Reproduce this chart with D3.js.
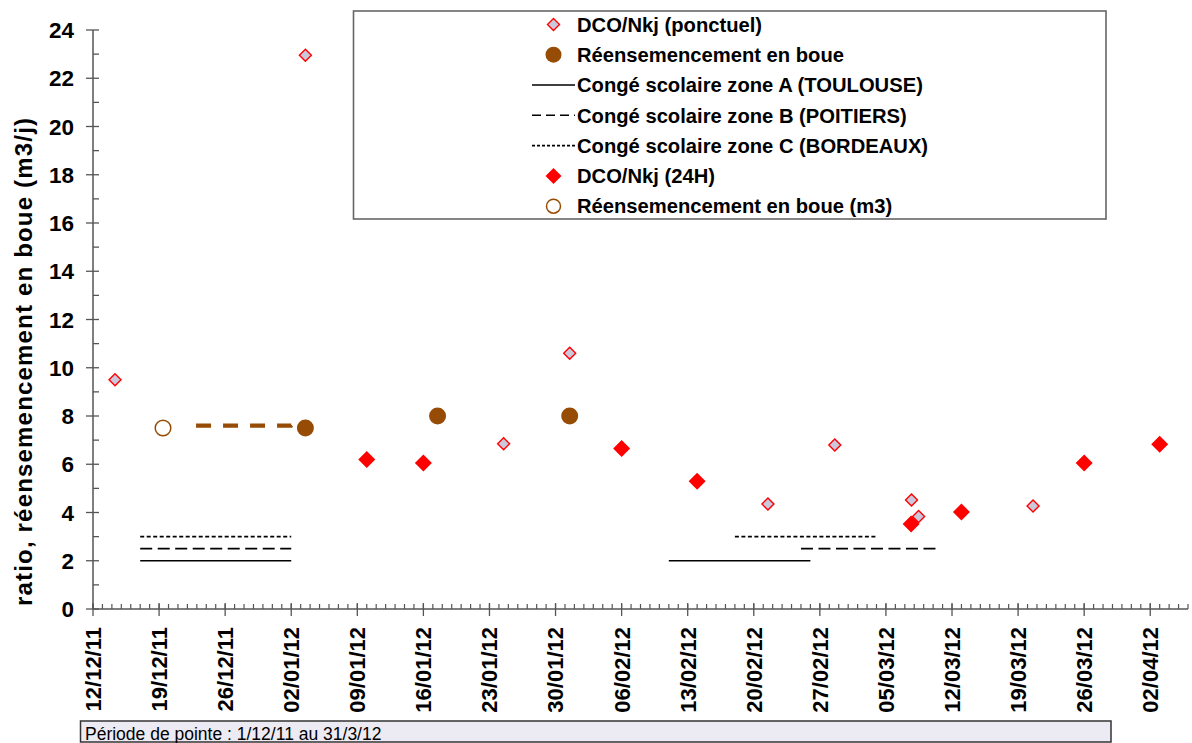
<!DOCTYPE html>
<html><head><meta charset="utf-8">
<script src="https://cdn.jsdelivr.net/npm/d3@7"></script>
<style>body{margin:0;background:#fff;}svg{display:block;font-family:"Liberation Sans",Arial,sans-serif;}</style>
</head><body>
<svg id="c" width="1192" height="743"></svg>
<script>
// ---- data ----
const xTickLabels = ["12/12/11","19/12/11","26/12/11","02/01/12","09/01/12","16/01/12","23/01/12","30/01/12","06/02/12","13/02/12","20/02/12","27/02/12","05/03/12","12/03/12","19/03/12","26/03/12","02/04/12"];
const yTickValues = [0,2,4,6,8,10,12,14,16,18,20,22,24];
const xDomain = ["2011-12-12T00:00","2012-04-06T00:00"];

const ponctuelDates = ["2011-12-14T08:00","2012-01-03T12:00","2012-01-24T12:00","2012-01-31T12:00","2012-02-21T12:00","2012-02-28T14:00","2012-03-07T17:00","2012-03-08T11:00","2012-03-20T14:00"];
const ponctuelValues = [9.5,22.95,6.85,10.6,4.35,6.8,4.52,3.83,4.27];

const h24Dates = ["2012-01-10T00:00","2012-01-16T00:00","2012-02-06T00:00","2012-02-14T00:00","2012-03-07T16:00","2012-03-13T00:00","2012-03-26T00:00","2012-04-03T00:00"];
const h24Values = [6.2,6.05,6.65,5.3,3.52,4.02,6.05,6.83];

const reensDates = ["2012-01-03T12:00","2012-01-17T12:00","2012-01-31T12:00"];
const reensValues = [7.5,8.0,8.0];

const reensM3Dates = ["2011-12-19T10:00"];
const reensM3Values = [7.5];

const reensLineDates = ["2011-12-22T22:00","2012-01-02T00:00","2012-01-02T22:00"];
const reensLineValues = [7.6,7.6,7.85];

const zoneA = [["2011-12-17T00:00","2012-01-02T00:00"],["2012-02-11T00:00","2012-02-26T00:00"]];
const zoneB = [["2011-12-17T00:00","2012-01-02T00:00"],["2012-02-25T00:00","2012-03-10T12:00"]];
const zoneC = [["2011-12-17T00:00","2012-01-02T00:00"],["2012-02-18T00:00","2012-03-04T00:00"]];
const zoneLevels = [2,2.5,3];

const legendLabels = ["DCO/Nkj (ponctuel)","Réensemencement en boue","Congé scolaire zone A (TOULOUSE)","Congé scolaire zone B (POITIERS)","Congé scolaire zone C (BORDEAUX)","DCO/Nkj (24H)","Réensemencement en boue (m3)"];
const yTitle = "ratio, réensemencement en boue (m3/j)";
const footnote = "Période de pointe : 1/12/11 au 31/3/12";

// ---- drawing ----
const parse = d3.utcParse("%Y-%m-%dT%H:%M");
const parseLbl = d3.utcParse("%d/%m/%y");
const svg = d3.select("#c");
const brown = "#974C05";
const red = "#FF0000";
const axisCol = "#555";

const x = d3.scaleUtc().domain(xDomain.map(parse)).range([93, 1188]);
const y = d3.scaleLinear().domain([0,24]).range([609, 30]);

// y axis
const ya = svg.append("g");
ya.append("line").attr("x1",x.range()[0]).attr("x2",x.range()[0]).attr("y1",y(0)).attr("y2",y(24)).attr("stroke",axisCol).attr("stroke-width",1.5);
d3.range(0,25,1).forEach(v=>{
  const major = v%2===0;
  ya.append("line").attr("x1", major? 86 : 93).attr("x2", 99).attr("y1",y(v)).attr("y2",y(v)).attr("stroke",axisCol).attr("stroke-width",1.3);
});
ya.selectAll("text.yt").data(yTickValues).join("text").attr("class","yt")
  .attr("x",74).attr("y",d=>y(d)).attr("dy","0.36em").attr("text-anchor","end")
  .attr("font-size",22.5).attr("font-weight","bold").text(d=>d);

// x axis
const xa = svg.append("g");
xa.append("line").attr("x1",x.range()[0]).attr("x2",x.range()[1]).attr("y1",y(0)).attr("y2",y(0)).attr("stroke",axisCol).attr("stroke-width",1.5);
const [d0,d1] = x.domain();
d3.utcDay.range(d0, d3.utcDay.offset(d1,1)).forEach(d=>{
  xa.append("line").attr("x1",x(d)).attr("x2",x(d)).attr("y1",604).attr("y2",609).attr("stroke",axisCol).attr("stroke-width",1.2);
});
const majorTicks = xTickLabels.map(parseLbl);
majorTicks.forEach(d=>{
  xa.append("line").attr("x1",x(d)).attr("x2",x(d)).attr("y1",603).attr("y2",616).attr("stroke",axisCol).attr("stroke-width",1.3);
});
xa.selectAll("text.xt").data(xTickLabels).join("text").attr("class","xt")
  .attr("transform",d=>`translate(${x(parseLbl(d))},627) rotate(-90)`)
  .attr("text-anchor","end").attr("dy","0.36em")
  .attr("font-size",22).attr("font-weight","bold").text(d=>d);

// y title
svg.append("text").attr("transform",`translate(32,362) rotate(-90)`)
  .attr("text-anchor","middle").attr("font-size",24).attr("font-weight","bold")
  .attr("textLength",488).attr("lengthAdjust","spacing").text(yTitle);

// school holidays
const zoneDash = [null,"12,5.5","4,2.5"];
[zoneA,zoneB,zoneC].forEach((z,i)=>{
  z.forEach(seg=>{
    svg.append("line").attr("x1",x(parse(seg[0]))).attr("x2",x(parse(seg[1])))
      .attr("y1",y(zoneLevels[i])).attr("y2",y(zoneLevels[i]))
      .attr("stroke","#000").attr("stroke-width",1.7)
      .attr("stroke-dasharray",zoneDash[i]);
  });
});

// brown dashed line
const lineData = reensLineDates.map((d,i)=>[parse(d),reensLineValues[i]]);
svg.append("path").attr("d",d3.line().x(d=>x(d[0])).y(d=>y(d[1]))(lineData))
  .attr("fill","none").attr("stroke",brown).attr("stroke-width",4.3).attr("stroke-dasharray","15,12");

const diamond = (s)=>`M0,${-s}L${s},0L0,${s}L${-s},0Z`;

// ponctuel
svg.selectAll("path.pt").data(ponctuelDates.map((d,i)=>[parse(d),ponctuelValues[i]])).join("path").attr("class","pt")
  .attr("transform",d=>`translate(${x(d[0])},${y(d[1])})`).attr("d",diamond(6))
  .attr("fill","#CBC8DC").attr("stroke",red).attr("stroke-width",1.4);

// 24H
svg.selectAll("path.h24").data(h24Dates.map((d,i)=>[parse(d),h24Values[i]])).join("path").attr("class","h24")
  .attr("transform",d=>`translate(${x(d[0])},${y(d[1])})`).attr("d",diamond(8.5))
  .attr("fill",red);

// reens filled
svg.selectAll("circle.rb").data(reensDates.map((d,i)=>[parse(d),reensValues[i]])).join("circle").attr("class","rb")
  .attr("cx",d=>x(d[0])).attr("cy",d=>y(d[1])).attr("r",8.5).attr("fill",brown);

// reens m3 open
svg.selectAll("circle.rm").data(reensM3Dates.map((d,i)=>[parse(d),reensM3Values[i]])).join("circle").attr("class","rm")
  .attr("cx",d=>x(d[0])).attr("cy",d=>y(d[1])).attr("r",7.8).attr("fill","#fff").attr("stroke",brown).attr("stroke-width",1.5);

// legend
const lg = svg.append("g");
lg.append("rect").attr("x",353.5).attr("y",11).attr("width",752.5).attr("height",208).attr("fill","#fff").attr("stroke","#666").attr("stroke-width",1.6);
const rowY = i => 24.4 + i*30.3;
const symX = 553.5;
legendLabels.forEach((t,i)=>{
  lg.append("text").attr("x",577).attr("y",rowY(i)).attr("dy","0.36em").attr("font-size",20.2).attr("font-weight","bold").text(t);
});
lg.append("path").attr("transform",`translate(${symX},${rowY(0)})`).attr("d",diamond(6)).attr("fill","#CBC8DC").attr("stroke",red).attr("stroke-width",1.4);
lg.append("circle").attr("cx",symX).attr("cy",rowY(1)).attr("r",8).attr("fill",brown);
[2,3,4].forEach((r,k)=>{
  lg.append("line").attr("x1",532).attr("x2",575).attr("y1",rowY(r)).attr("y2",rowY(r))
    .attr("stroke","#000").attr("stroke-width",1.6).attr("stroke-dasharray",[null,"9,5","3,2"][k]);
});
lg.append("path").attr("transform",`translate(${symX},${rowY(5)})`).attr("d",diamond(8)).attr("fill",red);
lg.append("circle").attr("cx",symX).attr("cy",rowY(6)).attr("r",7).attr("fill","#fff").attr("stroke",brown).attr("stroke-width",1.5);

// footnote box
svg.append("rect").attr("x",80.5).attr("y",721).attr("width",1030.5).attr("height",21).attr("fill","#ECEAF2").attr("stroke","#333").attr("stroke-width",1.5);
svg.append("text").attr("x",85).attr("y",740).attr("font-size",17.5).text(footnote);
</script>
</body></html>
